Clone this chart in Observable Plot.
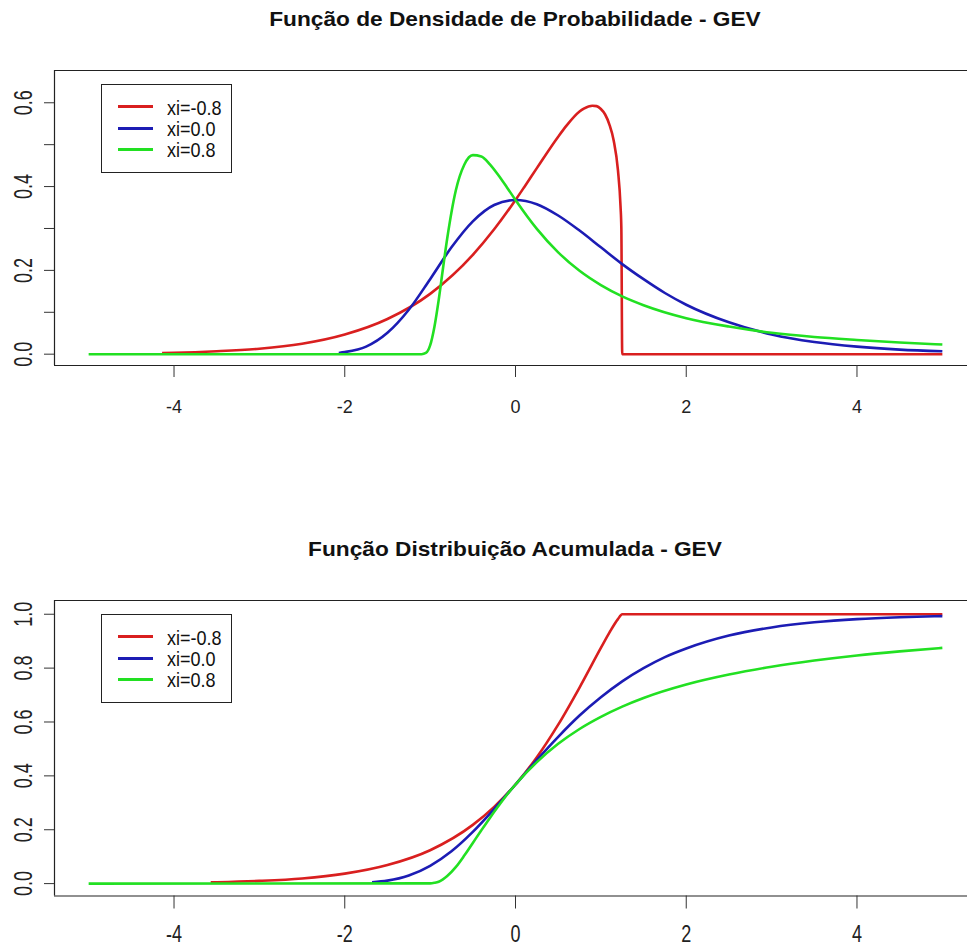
<!DOCTYPE html>
<html>
<head>
<meta charset="utf-8">
<script src="https://cdn.jsdelivr.net/npm/d3@7"></script>
<script src="https://cdn.jsdelivr.net/npm/@observablehq/plot@0.6"></script>
<style>
  body { margin: 0; background: #fff; }
  #wrap { position: relative; width: 967px; height: 946px; overflow: hidden; background: #fff;
          font-family: "Liberation Sans", Arial, sans-serif; color: #111; }
  .panel { position: absolute; left: 0; width: 967px; }
  .title { position: absolute; left: 215px; width: 600px; text-align: center; font-weight: bold;
           font-size: 21px; line-height: 22px; white-space: nowrap; transform: scaleX(1.08);
           transform-origin: 300px 50%; }
  .legend { position: absolute; left: 101px; width: 131px; height: 89px; border: 1px solid #222;
            box-sizing: border-box; background: #fff; }
  .sw { position: absolute; left: 118px; width: 35px; height: 3px; }
  .lt { position: absolute; left: 167px; font-size: 18px; line-height: 21px; white-space: nowrap;
        transform: scaleY(1.13); transform-origin: 0 50%; }
</style>
</head>
<body>
<div id="wrap"></div>
<script>
// ---------- data ----------
const titleTop = "Função de Densidade de Probabilidade - GEV";
const titleBottom = "Função Distribuição Acumulada - GEV";
const seriesNames = ["xi=-0.8", "xi=0.0", "xi=0.8"];
const seriesColors = ["#d91f1f", "#1c1cb4", "#22e022"];

const xTicks = [-4, -2, 0, 2, 4];
const yTicksTop = [0, 0.1, 0.2, 0.3, 0.4, 0.5, 0.6];
const yLabelsTop = [0, 0.2, 0.4, 0.6];
const yTicksBottom = [0, 0.2, 0.4, 0.6, 0.8, 1.0];

// density, xi = -0.8
const densRedX = [-4.14, -4, -3.5, -3, -2.5, -2, -1.5, -1, -0.5, -0.25, 0, 0.1, 0.25, 0.5, 0.6, 0.75, 0.8, 0.9, 0.95, 1.0, 1.05, 1.1, 1.15, 1.2, 1.23, 1.24, 1.25, 5];
const densRedY = [0.003, 0.0035, 0.007, 0.013, 0.025, 0.047, 0.084, 0.144, 0.237, 0.298, 0.368, 0.398, 0.444, 0.519, 0.546, 0.579, 0.586, 0.593, 0.592, 0.585, 0.572, 0.548, 0.510, 0.439, 0.354, 0.299, 0, 0];
// density, xi = 0.0
const densBlueX = [-2.07, -2, -1.75, -1.5, -1.25, -1, -0.75, -0.5, -0.25, 0, 0.25, 0.5, 0.75, 1, 1.25, 1.5, 1.75, 2, 2.5, 3, 3.5, 4, 4.5, 5];
const densBlueY = [0.003, 0.005, 0.018, 0.051, 0.106, 0.179, 0.255, 0.317, 0.356, 0.368, 0.358, 0.331, 0.295, 0.255, 0.215, 0.179, 0.146, 0.118, 0.076, 0.047, 0.029, 0.018, 0.011, 0.007];
// density, xi = 0.8
const densGreenX = [-5, -1.1, -1.05, -1.0, -0.95, -0.9, -0.85, -0.8, -0.7, -0.6, -0.5, -0.4, -0.3, -0.2, -0.1, 0, 0.25, 0.5, 0.75, 1, 1.25, 1.5, 2, 2.5, 3, 3.5, 4, 4.5, 5];
const densGreenY = [0, 0, 0.003, 0.021, 0.065, 0.129, 0.204, 0.276, 0.390, 0.452, 0.475, 0.472, 0.453, 0.427, 0.398, 0.368, 0.299, 0.243, 0.199, 0.165, 0.138, 0.117, 0.086, 0.066, 0.051, 0.041, 0.034, 0.028, 0.023];

// cdf, xi = -0.8
const cdfRedX = [-3.57, -3.5, -3, -2.5, -2, -1.5, -1, -0.5, -0.25, 0, 0.25, 0.5, 0.75, 1.0, 1.1, 1.2, 1.25, 5];
const cdfRedY = [0.0045, 0.005, 0.010, 0.019, 0.037, 0.069, 0.124, 0.218, 0.285, 0.368, 0.469, 0.590, 0.728, 0.875, 0.932, 0.982, 1.0, 1.0];
// cdf, xi = 0.0
const cdfBlueX = [-1.68, -1.5, -1.25, -1, -0.75, -0.5, -0.25, 0, 0.25, 0.5, 0.75, 1, 1.25, 1.5, 1.75, 2, 2.5, 3, 3.5, 4, 4.5, 5];
const cdfBlueY = [0.005, 0.011, 0.030, 0.066, 0.120, 0.192, 0.277, 0.368, 0.459, 0.545, 0.624, 0.692, 0.751, 0.800, 0.841, 0.873, 0.921, 0.951, 0.970, 0.982, 0.989, 0.993];
// cdf, xi = 0.8
const cdfGreenX = [-5, -1.0, -0.95, -0.9, -0.85, -0.8, -0.7, -0.6, -0.5, -0.4, -0.3, -0.2, -0.1, 0, 0.25, 0.5, 0.75, 1, 1.25, 1.5, 2, 2.5, 3, 3.5, 4, 4.5, 5];
const cdfGreenY = [0, 0.001, 0.003, 0.007, 0.016, 0.028, 0.061, 0.104, 0.151, 0.198, 0.244, 0.288, 0.330, 0.368, 0.451, 0.519, 0.574, 0.619, 0.657, 0.689, 0.739, 0.776, 0.805, 0.828, 0.847, 0.862, 0.875];

// ---------- build ----------
const toRows = (xs, ys) => xs.map((x, i) => ({x, y: ys[i]}));
const fontFamily = '"Liberation Sans", Arial, sans-serif';
const wrap = document.getElementById("wrap");
const SVGNS = "http://www.w3.org/2000/svg";

// wrap a mark's group in a <g> carrying an extra transform (taller glyphs, as in the reference)
function wrapGroup(svg, selector, transform) {
  svg.querySelectorAll(selector).forEach(g => {
    const w = document.createElementNS(SVGNS, "g");
    w.setAttribute("transform", transform);
    g.parentNode.insertBefore(w, g);
    w.appendChild(g);
  });
}

function makePanel({top, height, boxBottom, yDomain, yTicks, yLabels, series, title,
                    xTickSize, xTickPadding, xLabelStretch}) {
  const div = document.createElement("div");
  div.className = "panel";
  div.style.top = top + "px";
  div.style.height = height + "px";

  const lines = series.map((rows, i) =>
    Plot.line(rows, {x: "x", y: "y", stroke: seriesColors[i], strokeWidth: 2.6,
                     curve: "monotone-x", strokeLinejoin: "round", strokeLinecap: "butt"}));

  const labelX = 54 - 31;
  const svg = Plot.plot({
    width: 967,
    height,
    marginTop: 70,
    marginBottom: height - boxBottom,
    marginLeft: 54,
    marginRight: 0,
    x: {domain: [-5.4, 5.4], range: [54, 976]},
    y: {domain: yDomain},
    style: {fontFamily, fontSize: "18px", background: "white", color: "#222", overflow: "hidden"},
    marks: [
      ...lines,
      Plot.ruleY([yDomain[0], yDomain[1]], {stroke: "#222", strokeWidth: 1.2}),
      Plot.ruleX([-5.4], {stroke: "#222", strokeWidth: 1.2}),
      Plot.axisX({ticks: xTicks, tickSize: xTickSize, tickPadding: xTickPadding, tickFormat: d => String(d),
                  label: null, stroke: "#333", fill: "#222"}),
      Plot.axisY({ticks: yTicks, tickSize: 10, tickFormat: () => "", label: null, stroke: "#333"}),
      Plot.text(yLabels, {y: d => d, text: d => d3.format(".1f")(d), frameAnchor: "left",
                          dx: -31, rotate: -90, textAnchor: "middle", lineAnchor: "middle",
                          fill: "#222", fontSize: 18})
    ]
  });
  wrapGroup(svg, 'g[aria-label="text"]', `translate(${labelX},0) scale(1.38,1) translate(${-labelX},0)`);
  if (xLabelStretch !== 1) {
    const y0 = boxBottom + xTickSize + xTickPadding;
    wrapGroup(svg, 'g[aria-label="x-axis tick label"]', `translate(0,${y0}) scale(1,${xLabelStretch}) translate(0,${-y0})`);
  }
  div.appendChild(svg);

  const t = document.createElement("div");
  t.className = "title";
  t.style.top = "7.6px";
  t.textContent = title;
  div.appendChild(t);

  const lg = document.createElement("div");
  lg.className = "legend";
  lg.style.top = "84px";
  div.appendChild(lg);
  const rowsY = [106.7, 128, 149.3];
  seriesNames.forEach((name, i) => {
    const sw = document.createElement("div");
    sw.className = "sw";
    sw.style.top = (rowsY[i] - 1.5) + "px";
    sw.style.background = seriesColors[i];
    div.appendChild(sw);
    const lt = document.createElement("div");
    lt.className = "lt";
    lt.style.top = (rowsY[i] + 1.2 - 10.3) + "px";
    lt.textContent = name;
    div.appendChild(lt);
  });

  wrap.appendChild(div);
}

makePanel({
  top: 0, height: 530, boxBottom: 365,
  yDomain: [-0.027, 0.677], yTicks: yTicksTop, yLabels: yLabelsTop,
  series: [toRows(densRedX, densRedY), toRows(densBlueX, densBlueY), toRows(densGreenX, densGreenY)],
  title: titleTop, xTickSize: 12, xTickPadding: 23, xLabelStretch: 1
});
makePanel({
  top: 530, height: 416, boxBottom: 365.5,
  yDomain: [-0.046, 1.051], yTicks: yTicksBottom, yLabels: yTicksBottom,
  series: [toRows(cdfRedX, cdfRedY), toRows(cdfBlueX, cdfBlueY), toRows(cdfGreenX, cdfGreenY)],
  title: titleBottom, xTickSize: 13, xTickPadding: 16.5, xLabelStretch: 1.3
});
</script>
</body>
</html>
